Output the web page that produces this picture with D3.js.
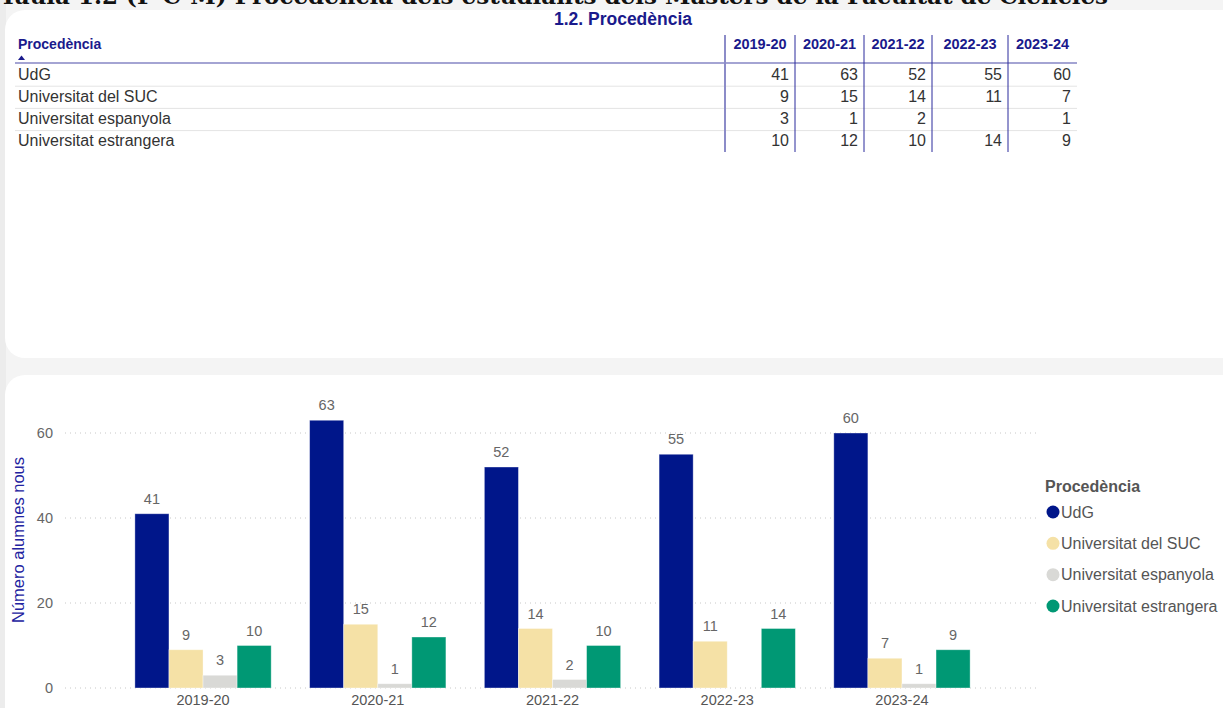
<!DOCTYPE html>
<html lang="ca">
<head>
<meta charset="UTF-8">
<title>1.2. Procedència</title>
<script src="https://d3js.org/d3.v7.min.js"></script>
<style>
  body { margin: 0; background: #f4f4f4; font-family: "Liberation Sans", Arial, sans-serif; }
  svg { display: block; }
</style>
</head>
<body>
<script>
// chart values
var years = ["2019-20", "2020-21", "2021-22", "2022-23", "2023-24"];
var origins = ["UdG", "Universitat del SUC", "Universitat espanyola", "Universitat estrangera"];
var udg = [41, 63, 52, 55, 60];
var suc = [9, 15, 14, 11, 7];
var espanyola = [3, 1, 2, null, 1];
var estrangera = [10, 12, 10, 14, 9];
var yTicks = [0, 20, 40, 60];
var colors = ["#00168a", "#f5e1a6", "#d9d9d6", "#009874"];

var series = [udg, suc, espanyola, estrangera];

var W = 1223, H = 708;
var svg = d3.select("body").append("svg").attr("width", W).attr("height", H);

// left shadow strip + panels
svg.append("rect").attr("x", 0).attr("y", 0).attr("width", 6).attr("height", H).attr("fill", "#ececec");
svg.append("rect").attr("x", 5).attr("y", 10).attr("width", W + 30).attr("height", 348)
  .attr("rx", 20).attr("fill", "#fff");
svg.append("rect").attr("x", 5).attr("y", 375).attr("width", W + 30).attr("height", 400)
  .attr("rx", 20).attr("fill", "#fff");

// page title, cut by the top edge as in the report
svg.append("text")
  .attr("x", 1108).attr("y", 4)
  .attr("text-anchor", "end")
  .style("font-family", "'DejaVu Serif', serif")
  .style("font-weight", "bold")
  .style("font-size", "23px")
  .attr("fill", "#111")
  .text("Taula 1.2 (P-C-M) Procedència dels estudiants dels Màsters de la Facultat de Ciències");

// ---------- table ----------
var navy = "#1a1a8c";
svg.append("text").attr("x", 623).attr("y", 25).attr("text-anchor", "middle")
  .style("font-weight", "bold").style("font-size", "17.5px").attr("fill", navy)
  .text("1.2. Procedència");

var colEdges = [725, 795, 864, 932, 1008, 1077];
var tableLeft = 15;
var headerY = 49, headerLine = 63;
var rowBase = d3.scaleLinear().domain([0, 1]).range([79.5, 101.7]);

svg.append("text").attr("x", 18).attr("y", headerY)
  .style("font-weight", "bold").style("font-size", "14px").attr("fill", navy)
  .text("Procedència");
svg.append("path").attr("d", "M18,60 L21.5,55.5 L25,60 Z").attr("fill", navy);

years.forEach(function (y, i) {
  svg.append("text")
    .attr("x", (colEdges[i] + colEdges[i + 1]) / 2).attr("y", headerY)
    .attr("text-anchor", "middle")
    .style("font-weight", "bold").style("font-size", "14.5px").attr("fill", navy)
    .text(y);
});

svg.append("line").attr("x1", tableLeft).attr("x2", colEdges[5])
  .attr("y1", headerLine).attr("y2", headerLine).attr("stroke", "#4a4aa8").attr("stroke-width", 1.2);

origins.forEach(function (o, r) {
  if (r > 0) {
    var ly = rowBase(r) - 15.5;
    svg.append("line").attr("x1", tableLeft).attr("x2", colEdges[5])
      .attr("y1", ly).attr("y2", ly).attr("stroke", "#e4e4e4");
  }
  svg.append("text").attr("x", 18).attr("y", rowBase(r))
    .style("font-size", "16px").attr("fill", "#333").text(o);
  series[r].forEach(function (v, i) {
    if (v == null) return;
    svg.append("text").attr("x", colEdges[i + 1] - 6).attr("y", rowBase(r))
      .attr("text-anchor", "end").style("font-size", "16px").attr("fill", "#333").text(v);
  });
});

colEdges.slice(0, 5).forEach(function (x, i) {
  svg.append("line").attr("x1", x).attr("x2", x).attr("y1", 35).attr("y2", 152)
    .attr("stroke", i === 0 ? "#8c8cc8" : "#2a2a9c").attr("stroke-width", i === 0 ? 2 : 1);
});

// ---------- bar chart ----------
var plotLeft = 65, plotRight = 1040;
var yScale = d3.scaleLinear().domain([0, 60]).range([688, 433]);
var xScale = d3.scaleBand().domain(years).range([plotLeft, plotRight])
  .paddingInner(0.22).paddingOuter(0.40);
var xInner = d3.scaleBand().domain(origins).range([0, xScale.bandwidth()]);

var chart = svg.append("g");

// gridlines
chart.selectAll(".grid").data(yTicks).enter().append("line")
  .attr("x1", plotLeft).attr("x2", plotRight)
  .attr("y1", function (d) { return yScale(d); }).attr("y2", function (d) { return yScale(d); })
  .attr("stroke", "#c8c8c8").attr("stroke-dasharray", "1,4");

// y axis
var yAxis = chart.append("g").attr("transform", "translate(58,0)")
  .call(d3.axisLeft(yScale).tickValues(yTicks).tickSize(0).tickPadding(5));
yAxis.select(".domain").remove();
yAxis.selectAll("text").style("font-size", "14.5px").style("font-family", "'Liberation Sans', Arial, sans-serif").attr("fill", "#666");

chart.append("text")
  .attr("transform", "translate(24,540) rotate(-90)")
  .attr("text-anchor", "middle")
  .style("font-size", "16.5px").attr("fill", "#2222a0")
  .text("Número alumnes nous");

// x axis
var xAxis = chart.append("g").attr("transform", "translate(0,688)")
  .call(d3.axisBottom(xScale).tickSize(0).tickPadding(7));
xAxis.select(".domain").remove();
xAxis.selectAll("text").style("font-size", "14.5px").style("font-family", "'Liberation Sans', Arial, sans-serif").attr("fill", "#555");

// bars
var groups = chart.selectAll(".yr").data(years).enter().append("g")
  .attr("transform", function (d) { return "translate(" + xScale(d) + ",0)"; });

groups.each(function (yr, i) {
  var g = d3.select(this);
  var rows = origins.map(function (o, k) { return { origin: o, value: series[k][i], color: colors[k] }; })
    .filter(function (d) { return d.value != null; });
  g.selectAll("rect").data(rows).enter().append("rect")
    .attr("x", function (d) { return xInner(d.origin); })
    .attr("y", function (d) { return yScale(d.value); })
    .attr("width", xInner.bandwidth())
    .attr("height", function (d) { return yScale(0) - yScale(d.value); })
    .attr("fill", function (d) { return d.color; })
    .attr("stroke", "rgba(255,255,255,0.45)").attr("stroke-width", 0.8);
  g.selectAll("text").data(rows).enter().append("text")
    .attr("x", function (d) { return xInner(d.origin) + xInner.bandwidth() / 2; })
    .attr("y", function (d) { return yScale(d.value) - 10; })
    .attr("text-anchor", "middle")
    .style("font-size", "14.5px").attr("fill", "#666")
    .text(function (d) { return d.value; });
});

// legend
var legend = svg.append("g").attr("transform", "translate(1045,0)");
legend.append("text").attr("x", 0).attr("y", 492)
  .style("font-weight", "bold").style("font-size", "16px").attr("fill", "#555")
  .text("Procedència");
var legendY = d3.scalePoint().domain(origins).range([512, 606]);
origins.forEach(function (o, k) {
  legend.append("circle").attr("cx", 8).attr("cy", legendY(o)).attr("r", 6.5).attr("fill", colors[k]);
  legend.append("text").attr("x", 16).attr("y", legendY(o) + 5.5)
    .style("font-size", "16px").attr("fill", "#555").text(o);
});
</script>
</body>
</html>
